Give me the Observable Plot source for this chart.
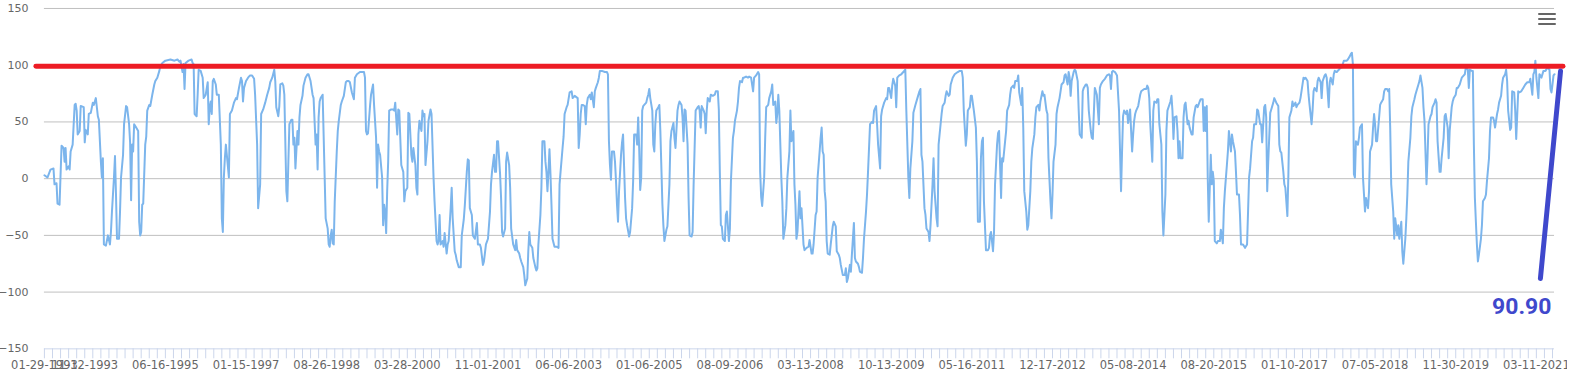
<!DOCTYPE html>
<html><head><meta charset="utf-8">
<script src="https://cdn.jsdelivr.net/npm/d3@7"></script>
<script src="https://cdn.jsdelivr.net/npm/@observablehq/plot@0.6"></script>
<style>
html,body{margin:0;padding:0;background:#fff;}
#wrap{position:relative;width:1567px;height:383px;overflow:hidden;}
#menu{position:absolute;left:1538px;top:13px;width:18px;height:12px;}
#menu span{position:absolute;left:0;width:18px;height:2.4px;background:#666;border-radius:1px;}
</style></head><body>
<div id="wrap"><div id="menu"><span style="top:0"></span><span style="top:5px"></span><span style="top:10px"></span></div></div>
<script>
// number of weekly categories on the x axis
const categoryCount = 1499;
// [category index, value]
const series = [
[0,3],[3,1],[6,8],[9,9],[10,-5],[12,-4],[13,-22],[15,-23],[17,29],[19,27],[20,15],[21,27],[22,8],[24,11],[25,8],[26,24],[28,30],[30,65],[31,66],[32,60],[33,39],[35,42],[36,64],[39,63],[40,32],[41,43],[43,39],[44,57],[46,58],[48,67],[49,65],[51,71],[53,55],[54,52],[56,15],[57,1],[58,18],[59,-58],[61,-59],[63,-50],[65,-58],[66,-47],[67,-29],[69,1],[70,20],[71,-14],[72,-53],[74,-53],[75,-29],[76,1],[78,21],[79,48],[81,64],[82,63],[84,48],[85,32],[86,-19],[87,30],[88,24],[89,48],[91,45],[93,42],[94,-38],[95,-50],[96,-47],[97,-23],[98,-22],[100,30],[101,37],[102,60],[104,65],[105,64],[107,74],[109,83],[110,86],[112,89],[114,95],[115,99],[117,102],[120,104],[125,105],[129,104],[132,105],[134,103],[135,104],[137,94],[138,101],[139,79],[140,102],[143,104],[146,105],[147,102],[148,101],[149,57],[151,55],[152,74],[153,96],[155,95],[157,89],[158,71],[160,74],[162,85],[163,48],[164,63],[165,68],[166,57],[167,86],[168,88],[170,83],[171,74],[173,74],[175,30],[176,-35],[177,-47],[178,1],[179,18],[180,30],[183,1],[184,57],[186,60],[188,67],[190,71],[191,70],[193,80],[195,89],[196,86],[197,68],[198,80],[200,86],[202,89],[204,91],[206,91],[208,88],[209,74],[211,30],[212,-26],[214,-5],[215,57],[217,61],[219,67],[221,74],[223,80],[224,85],[226,89],[228,96],[229,86],[230,63],[232,55],[233,64],[234,83],[236,84],[237,82],[238,74],[240,-11],[241,-20],[242,15],[243,48],[245,52],[246,52],[247,30],[248,36],[249,9],[251,42],[252,30],[253,54],[254,65],[256,73],[257,82],[259,89],[261,92],[262,92],[264,86],[266,74],[267,71],[269,30],[270,39],[271,8],[272,54],[273,68],[274,71],[276,74],[278,1],[279,-35],[281,-44],[282,-58],[283,-60],[284,-50],[285,-45],[286,-57],[287,-58],[288,-20],[290,24],[291,42],[292,51],[294,65],[295,68],[297,73],[299,85],[300,86],[302,86],[303,85],[305,76],[307,70],[308,89],[310,92],[313,94],[317,94],[318,89],[319,42],[320,39],[321,40],[323,64],[324,74],[326,83],[327,65],[329,36],[330,-8],[331,30],[332,24],[333,21],[335,1],[336,-41],[337,-23],[338,-29],[339,-48],[340,-11],[341,15],[342,60],[344,61],[346,61],[347,60],[348,67],[350,39],[351,61],[352,60],[354,12],[355,9],[356,6],[357,-20],[358,-11],[360,-8],[361,58],[362,57],[364,21],[365,15],[366,27],[368,12],[369,-8],[370,-14],[371,39],[372,51],
[374,42],[375,60],[376,55],[377,57],[378,12],[380,33],[381,51],[383,61],[384,57],[386,1],[387,-20],[389,-55],[390,-58],[391,-55],[392,-32],[393,-58],[395,-55],[396,-60],[397,-48],[399,-66],[400,-58],[401,-55],[403,-26],[404,-8],[405,-35],[407,-64],[408,-67],[409,-72],[411,-78],[413,-78],[414,-50],[416,-36],[417,-24],[419,6],[420,17],[421,16],[422,-26],[424,-32],[425,-50],[427,-53],[429,-39],[430,-58],[432,-58],[433,-61],[435,-76],[436,-73],[438,-58],[440,-53],[442,-29],[443,-5],[444,6],[446,21],[447,6],[448,6],[449,33],[450,33],[452,4],[453,-17],[454,-47],[455,-51],[457,-44],[458,15],[459,23],[461,12],[462,-8],[463,-44],[465,-58],[467,-63],[468,-54],[469,-63],[471,-66],[472,-70],[473,-73],[475,-78],[476,-85],[477,-94],[479,-88],[480,-64],[481,-47],[482,-58],[484,-61],[485,-70],[487,-78],[488,-81],[489,-79],[490,-58],[492,-32],[493,-8],[494,33],[496,33],[497,15],[498,6],[499,-11],[500,6],[501,26],[502,4],[503,-23],[504,-53],[506,-60],[508,-60],[510,-61],[511,-5],[512,6],[514,27],[515,37],[516,57],[518,63],[519,65],[521,76],[523,77],[524,71],[526,73],[529,71],[530,27],[531,39],[532,57],[533,65],[534,65],[536,64],[537,48],[538,65],[539,71],[541,74],[542,70],[543,76],[545,63],[546,77],[547,80],[549,85],[550,89],[551,95],[553,95],[556,94],[558,94],[559,92],[560,33],[561,12],[562,-1],[563,24],[565,24],[566,15],[567,-2],[568,-23],[569,-38],[570,-11],[572,21],[573,32],[574,39],[576,-17],[577,-35],[578,-41],[580,-51],[581,-47],[583,-26],[584,-2],[585,39],[587,39],[588,30],[589,54],[590,27],[591,-10],[592,1],[593,60],[594,64],[595,65],[597,67],[598,71],[599,74],[600,79],[601,71],[603,60],[604,30],[605,24],[606,48],[607,60],[609,63],[610,65],[611,42],[613,-22],[614,-41],[615,-55],[617,-45],[618,-42],[620,-5],[621,33],[622,42],[624,49],[625,36],[626,27],[628,60],[629,65],[630,68],[632,65],[633,54],[634,33],[635,61],[636,60],[638,30],[639,-17],[640,-50],[642,-51],[643,-47],[644,-5],[646,60],[648,63],[649,64],[650,60],[651,45],[652,64],[654,60],[655,57],[656,40],[657,60],[658,71],[660,68],[661,74],[663,73],[665,74],[666,77],[668,77],[669,61],[670,6],[671,-41],[672,-42],[673,-53],[675,-55],[676,-32],[677,-29],[679,-55],[680,-44],[681,-2],[683,36],[684,42],[685,51],[687,60],[688,68],[689,80],[690,86],[692,85],[693,89],[694,89],[696,90],[698,89],[699,90],[701,89],[703,77],[704,89],[706,91],[708,94],[709,92],[710,6],[711,-16],[712,-24],[714,1],[715,36],[716,63],[718,65],[719,71],[721,77],[722,83],[723,65],[725,68],[726,49],[727,57],[728,74],[729,60],[731,1],[732,-20],[733,-53],[735,-41],[736,-26],[737,1],[739,24],[740,60],
[741,33],[743,42],[744,-5],[745,-23],[746,-53],[747,-47],[749,-11],[750,-35],[751,-26],[753,-58],[754,-63],[756,-61],[758,-60],[759,-54],[761,-66],[762,-66],[763,-58],[765,-32],[766,-29],[767,1],[769,24],[770,36],[771,45],[772,24],[773,21],[774,-11],[775,-20],[776,-55],[777,-66],[779,-67],[780,-58],[782,-42],[783,-38],[785,-42],[786,-64],[788,-67],[789,-70],[790,-76],[792,-85],[794,-85],[795,-79],[796,-91],[797,-88],[799,-76],[800,-82],[801,-67],[803,-39],[804,-70],[805,-73],[807,-75],[808,-78],[809,-82],[811,-83],[812,-70],[813,-53],[815,-29],[816,-14],[817,6],[819,48],[821,50],[822,49],[823,60],[825,64],[826,48],[827,30],[829,9],[830,55],[831,61],[833,67],[835,71],[836,70],[837,80],[838,80],[840,71],[841,82],[842,88],[844,82],[845,63],[846,89],[848,91],[850,92],[852,94],[854,96],[855,60],[857,1],[858,-17],[859,9],[861,33],[862,58],[864,65],[866,71],[868,77],[869,79],[870,21],[871,15],[873,-26],[874,-32],[875,-44],[877,-47],[878,-55],[879,-41],[881,-5],[882,18],[883,-11],[885,-35],[886,-42],[887,30],[889,48],[890,57],[891,64],[893,67],[894,73],[895,77],[897,73],[898,74],[899,83],[901,89],[903,92],[906,94],[908,95],[910,95],[911,89],[912,60],[914,29],[915,39],[916,60],[918,63],[919,73],[920,73],[922,60],[924,45],[925,15],[926,-38],[928,-38],[929,18],[930,33],[931,36],[932,-20],[934,-63],[936,-63],[937,-61],[938,-50],[939,-47],[941,-64],[942,-47],[943,-5],[945,30],[946,40],[947,42],[949,-17],[950,18],[951,15],[953,33],[954,42],[955,60],[957,65],[958,74],[959,80],[961,82],[962,80],[963,86],[965,86],[966,91],[967,76],[969,65],[970,80],[971,45],[972,-11],[974,-29],[975,-45],[976,-41],[978,-11],[979,15],[980,27],[982,39],[983,54],[984,63],[986,65],[987,60],[988,68],[990,77],[991,73],[992,74],[994,60],[995,57],[996,18],[998,-20],[999,-35],[1000,-14],[1001,15],[1003,30],[1004,57],[1005,63],[1007,71],[1008,77],[1009,83],[1011,85],[1012,91],[1013,92],[1015,83],[1016,94],[1017,89],[1018,73],[1019,86],[1021,94],[1022,96],[1023,95],[1025,86],[1026,60],[1027,39],[1029,36],[1030,77],[1031,80],[1033,83],[1034,83],[1035,80],[1036,60],[1038,42],[1039,36],[1040,35],[1042,80],[1043,77],[1044,74],[1046,48],[1047,80],[1048,83],[1050,86],[1052,88],[1054,91],[1056,92],[1057,91],[1058,79],[1059,94],[1060,95],[1062,94],[1064,91],[1066,60],[1067,24],[1068,-11],[1069,24],[1070,55],[1071,60],[1073,57],[1074,60],[1075,49],[1077,61],[1078,42],[1079,24],[1080,39],[1081,51],[1082,57],[1083,60],[1085,64],[1087,74],[1088,77],[1091,79],[1093,79],[1094,82],[1095,80],[1096,71],[1097,48],[1099,15],[1100,60],[1101,68],[1103,67],[1104,70],[1105,70],[1106,48],[1108,30],[1109,-29],[1110,-50],[1112,-14],[1113,42],[1114,60],
[1117,68],[1118,73],[1119,60],[1120,35],[1121,54],[1123,55],[1124,42],[1125,18],[1126,33],[1127,18],[1129,18],[1130,54],[1131,65],[1132,67],[1134,48],[1135,51],[1136,45],[1138,39],[1139,39],[1140,54],[1142,64],[1143,65],[1144,63],[1146,68],[1147,70],[1149,70],[1150,42],[1151,63],[1152,42],[1153,64],[1154,1],[1155,-38],[1157,21],[1158,-5],[1159,6],[1160,-2],[1161,-55],[1163,-57],[1164,-55],[1166,-55],[1167,-45],[1169,-57],[1170,-26],[1171,-11],[1173,12],[1174,24],[1175,42],[1177,24],[1178,39],[1179,33],[1181,24],[1182,6],[1183,-14],[1185,-14],[1186,-32],[1187,-58],[1189,-58],[1191,-61],[1193,-58],[1194,-29],[1195,1],[1196,9],[1198,33],[1199,36],[1200,48],[1202,48],[1203,61],[1204,60],[1206,48],[1207,48],[1208,32],[1210,63],[1211,65],[1212,54],[1213,-11],[1214,15],[1216,58],[1217,61],[1219,67],[1220,71],[1222,67],[1224,64],[1225,30],[1226,24],[1227,23],[1229,6],[1230,-5],[1231,-8],[1233,-33],[1234,4],[1235,54],[1237,60],[1238,68],[1239,64],[1241,67],[1242,63],[1243,65],[1245,67],[1246,71],[1247,77],[1249,89],[1250,88],[1251,89],[1253,86],[1254,74],[1255,65],[1257,48],[1258,60],[1259,77],[1260,80],[1262,77],[1263,86],[1264,89],[1266,85],[1267,71],[1268,86],[1270,91],[1271,92],[1272,89],[1274,63],[1275,85],[1276,89],[1278,83],[1279,92],[1280,95],[1282,94],[1283,95],[1284,96],[1286,98],[1287,98],[1288,101],[1289,104],[1291,104],[1292,104],[1293,105],[1295,108],[1296,110],[1297,111],[1298,101],[1299,4],[1300,1],[1301,33],[1303,30],[1304,36],[1305,45],[1307,48],[1308,1],[1309,-14],[1310,-29],[1311,-17],[1313,-26],[1314,-11],[1315,24],[1317,30],[1318,45],[1319,57],[1320,48],[1321,33],[1322,33],[1324,54],[1325,65],[1326,67],[1328,70],[1329,77],[1330,79],[1332,79],[1333,77],[1334,79],[1335,45],[1336,-5],[1338,-29],[1339,-53],[1340,-35],[1342,-50],[1343,-41],[1344,-53],[1346,-38],[1347,-64],[1348,-75],[1350,-53],[1351,-35],[1352,-14],[1353,15],[1355,36],[1356,55],[1357,63],[1359,70],[1360,74],[1361,77],[1363,83],[1364,86],[1365,91],[1367,80],[1368,63],[1369,51],[1371,-5],[1372,18],[1373,48],[1375,55],[1376,57],[1377,63],[1379,67],[1380,70],[1381,67],[1382,33],[1384,6],[1385,6],[1386,18],[1388,36],[1389,55],[1390,57],[1392,45],[1393,18],[1394,42],[1396,63],[1397,68],[1398,71],[1400,74],[1401,80],[1402,80],[1404,83],[1405,86],[1406,89],[1408,91],[1409,92],[1410,98],[1412,96],[1413,80],[1414,96],[1416,95],[1417,95],[1418,30],[1419,-17],[1420,-38],[1421,-58],[1422,-73],[1423,-67],[1425,-53],[1426,-41],[1427,-20],[1429,-17],[1430,-14],[1431,-2],[1433,18],[1434,42],[1435,54],[1437,54],[1438,51],[1439,45],[1441,57],[1442,61],[1443,67],[1445,73],[1446,83],[1447,89],[1449,92],[1450,96],[1451,86],[1452,60],[1454,43],[1455,45],[1456,77],[1458,76],[1459,60],[1460,35],[1462,77],[1463,76],[1465,77],[1467,80],[1469,83],[1471,85],[1473,85],[1474,88],[1476,74],[1477,92],[1478,94],[1479,104],[1480,89],[1482,71],[1483,92],[1484,91],[1485,89],[1487,95],[1489,95],[1491,98],[1493,96],[1494,79],[1495,76],[1496,83],[1497,91],[1498,92]
];
// x axis labels and the category index they sit at
const tickAt = [0,40,120,200,280,360,440,520,600,680,760,840,920,1000,1080,1160,1240,1320,1400,1480];
const tickLabels = ["01-29-1993","11-12-1993","06-16-1995","01-15-1997","08-26-1998","03-28-2000","11-01-2001","06-06-2003","01-06-2005","08-09-2006","03-13-2008","10-13-2009","05-16-2011","12-17-2012","05-08-2014","08-20-2015","01-10-2017","07-05-2018","11-30-2019","03-11-2021"];
const tickEvery = 8;
const yTicks = [-150,-100,-50,0,50,100,150];
// hand-drawn annotations
const threshold = 99;
const markerX = [1484, 1504];
const markerY = [-88, 95];
const markerLabel = "90.90";

const labelOf = new Map(tickAt.map((t, i) => [t, tickLabels[i]]));
const marker = markerX.map((x, i) => ({x, y: markerY[i]}));

const chart = Plot.plot({
  width: 1570, height: 383,
  marginLeft: 44, marginRight: 13, marginTop: 8, marginBottom: 34,
  style: {fontFamily: "'DejaVu Sans', sans-serif", fontSize: "11px", color: "#666", background: "#fff"},
  x: {domain: [0, categoryCount - 1], axis: null},
  y: {domain: [-150, 150], axis: null},
  marks: [
    Plot.ruleY(yTicks.filter(d => d > -150), {stroke: "#c0c0c0", strokeWidth: 1}),
    Plot.ruleY([-150], {stroke: "#ccd6eb", strokeWidth: 1}),
    Plot.axisY({ticks: yTicks, tickSize: 0, tickPadding: 16, fill: "#666", fontSize: 11, label: null}),
    Plot.axisX({ticks: d3.range(0, categoryCount, tickEvery), tickSize: 10, stroke: "#ccd6eb", tickFormat: () => "", label: null}),
    Plot.axisX({ticks: tickAt, tickSize: 0, tickPadding: 12, tickFormat: d => labelOf.get(d), fill: "#666", fontSize: 11.5, label: null}),
    Plot.line(series, {x: d => d[0], y: d => d[1], stroke: "#7cb5ec", strokeWidth: 2, strokeLinejoin: "round"}),
    Plot.ruleY([threshold], {stroke: "#ed1c24", strokeWidth: 5, strokeLinecap: "round", insetLeft: -8, insetRight: -9}),
    Plot.line(marker, {x: "x", y: "y", stroke: "#3f48cc", strokeWidth: 5, strokeLinecap: "round"}),
    Plot.text([marker[0]], {x: "x", y: "y", text: () => markerLabel, textAnchor: "end", dx: 11, dy: 28, fill: "#3f48cc", fontSize: 23, fontWeight: "bold", fontFamily: "Roboto"})
  ]
});
document.getElementById("wrap").prepend(chart);
</script>
</body></html>
